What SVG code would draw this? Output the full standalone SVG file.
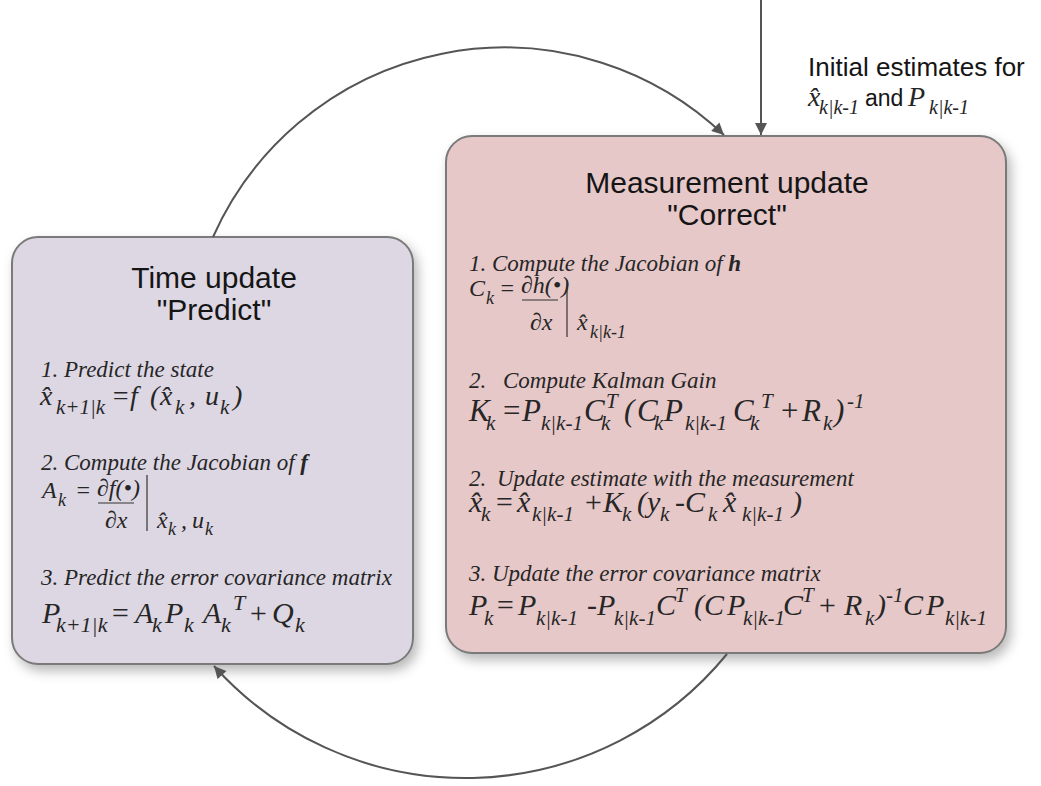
<svg xmlns="http://www.w3.org/2000/svg" width="1041" height="786" viewBox="0 0 1041 786">
  <style>
    .box-t { fill: #ddd7e3; stroke: #7a7a7a; stroke-width: 2; }
    .box-m { fill: #e6c8c9; stroke: #7a7a7a; stroke-width: 2; }
    .ttl { font-family: "Liberation Sans", Arial, sans-serif; font-size: 30px; fill: #151515; text-anchor: middle; }
    .note { font-family: "Liberation Sans", Arial, sans-serif; fill: #151515; }
    .lbl { font-family: "Liberation Serif", "Times New Roman", serif; font-style: italic; font-size: 23px; fill: #262626; }
    .eq { font-family: "Liberation Serif", "Times New Roman", serif; font-style: italic; fill: #262626; }
    .bi { font-weight: bold; }
    .rule { stroke: #333; stroke-width: 1.2; }
    .conn { fill: none; stroke: #555; stroke-width: 2; }
  </style>
  <defs>
    <filter id="shadow" x="-10%" y="-10%" width="125%" height="125%">
      <feDropShadow dx="4" dy="6" stdDeviation="6" flood-color="#000" flood-opacity="0.28"/>
    </filter>
    <marker id="arrow" viewBox="0 0 10 10" refX="10" refY="5" markerUnits="userSpaceOnUse" markerWidth="16" markerHeight="12" orient="auto">
      <path d="M0,0 L10,5 L0,10 z" fill="#555"/>
    </marker>
  </defs>

  <!-- Time update (predict) -->
  <g id="time-update">
    <rect class="box-t" x="12" y="237" width="401" height="427" rx="26" ry="26" filter="url(#shadow)"/>
    <text class="ttl" x="214" y="288">Time update</text>
    <text class="ttl" x="214" y="320">"Predict"</text>

    <text class="lbl" x="41" y="377">1. Predict the state</text>
    <text class="eq" font-size="28">
      <tspan x="40" y="405">x&#770;</tspan>
      <tspan x="56" y="414" font-size="21">k+1|k</tspan>
      <tspan x="111" y="405">=</tspan>
      <tspan x="130" y="405">f</tspan>
      <tspan x="150" y="405">(</tspan>
      <tspan x="160" y="405">x&#770;</tspan>
      <tspan x="175" y="414" font-size="21">k</tspan>
      <tspan x="189" y="405">,</tspan>
      <tspan x="205" y="405">u</tspan>
      <tspan x="220" y="414" font-size="21">k</tspan>
      <tspan x="233" y="405">)</tspan>
    </text>

    <text class="lbl" x="41" y="470">2. Compute the Jacobian of <tspan class="bi">f</tspan></text>
    <text class="eq" font-size="24">
      <tspan x="42" y="498">A</tspan>
      <tspan x="58" y="506" font-size="18">k</tspan>
      <tspan x="75" y="498">=</tspan>
      <tspan x="97" y="496">∂f(•)</tspan>
      <tspan x="105" y="528">∂x</tspan>
      <tspan x="157" y="528">x&#770;</tspan>
      <tspan x="168" y="535" font-size="18">k</tspan>
      <tspan x="181" y="528">,</tspan>
      <tspan x="192" y="528">u</tspan>
      <tspan x="205" y="535" font-size="18">k</tspan>
    </text>
    <line class="rule" x1="98" y1="503" x2="134" y2="503"/>
    <line class="rule" x1="147" y1="475" x2="147" y2="531"/>

    <text class="lbl" x="41" y="585">3. Predict the error covariance matrix</text>
    <text class="eq" font-size="30">
      <tspan x="42" y="623">P</tspan>
      <tspan x="56" y="632" font-size="22">k+1|k</tspan>
      <tspan x="110" y="623">=</tspan>
      <tspan x="135" y="623">A</tspan>
      <tspan x="152" y="632" font-size="22">k</tspan>
      <tspan x="165" y="623">P</tspan>
      <tspan x="184" y="632" font-size="22">k</tspan>
      <tspan x="203" y="623">A</tspan>
      <tspan x="221" y="632" font-size="22">k</tspan>
      <tspan x="233" y="610" font-size="22">T</tspan>
      <tspan x="248" y="623">+</tspan>
      <tspan x="272" y="623">Q</tspan>
      <tspan x="295" y="632" font-size="22">k</tspan>
    </text>
  </g>

  <!-- Measurement update (correct) -->
  <g id="measurement-update">
    <rect class="box-m" x="446" y="136" width="560" height="517" rx="26" ry="26" filter="url(#shadow)"/>
    <text class="ttl" x="727" y="193">Measurement update</text>
    <text class="ttl" x="727" y="225">"Correct"</text>

    <text class="lbl" x="469" y="271">1. Compute the Jacobian of <tspan class="bi">h</tspan></text>
    <text class="eq" font-size="24">
      <tspan x="469" y="296">C</tspan>
      <tspan x="486" y="304" font-size="18">k</tspan>
      <tspan x="499" y="296">=</tspan>
      <tspan x="521" y="293">∂h(•)</tspan>
      <tspan x="530" y="330">∂x</tspan>
      <tspan x="577" y="330">x&#770;</tspan>
      <tspan x="590" y="338" font-size="18">k|k-1</tspan>
    </text>
    <line class="rule" x1="522" y1="300" x2="558" y2="300"/>
    <line class="rule" x1="567" y1="280" x2="567" y2="337"/>

    <text class="lbl" x="469" y="388">2.<tspan x="503">Compute Kalman Gain</tspan></text>
    <text class="eq" font-size="31">
      <tspan x="469" y="421">K</tspan>
      <tspan x="486" y="430" font-size="21">k</tspan>
      <tspan x="501" y="421">=</tspan>
      <tspan x="522" y="421">P</tspan>
      <tspan x="541" y="430" font-size="21">k|k-1</tspan>
      <tspan x="584" y="421">C</tspan>
      <tspan x="601" y="430" font-size="21">k</tspan>
      <tspan x="606" y="408" font-size="21">T</tspan>
      <tspan x="624" y="421">(</tspan>
      <tspan x="637" y="421">C</tspan>
      <tspan x="654" y="430" font-size="21">k</tspan>
      <tspan x="664" y="421">P</tspan>
      <tspan x="685" y="430" font-size="21">k|k-1</tspan>
      <tspan x="733" y="421">C</tspan>
      <tspan x="750" y="430" font-size="21">k</tspan>
      <tspan x="761" y="408" font-size="21">T</tspan>
      <tspan x="779" y="421">+</tspan>
      <tspan x="802" y="421">R</tspan>
      <tspan x="823" y="430" font-size="21">k</tspan>
      <tspan x="834" y="421">)</tspan>
      <tspan x="847" y="408" font-size="21">-1</tspan>
    </text>

    <text class="lbl" x="469" y="486">2.<tspan x="497">Update estimate with the measurement</tspan></text>
    <text class="eq" font-size="30">
      <tspan x="469" y="512">x&#770;</tspan>
      <tspan x="481" y="521" font-size="21">k</tspan>
      <tspan x="494" y="512">=</tspan>
      <tspan x="517" y="512">x&#770;</tspan>
      <tspan x="532" y="521" font-size="21">k|k-1</tspan>
      <tspan x="583" y="512">+</tspan>
      <tspan x="603" y="512">K</tspan>
      <tspan x="622" y="521" font-size="21">k</tspan>
      <tspan x="637" y="512">(</tspan>
      <tspan x="647" y="512">y</tspan>
      <tspan x="660" y="521" font-size="21">k</tspan>
      <tspan x="675" y="512">-</tspan>
      <tspan x="685" y="512">C</tspan>
      <tspan x="708" y="521" font-size="21">k</tspan>
      <tspan x="723" y="512">x&#770;</tspan>
      <tspan x="742" y="521" font-size="21">k|k-1</tspan>
      <tspan x="792" y="512">)</tspan>
    </text>

    <text class="lbl" x="469" y="581">3. Update the error covariance matrix</text>
    <text class="eq" font-size="30">
      <tspan x="469" y="615">P</tspan>
      <tspan x="484" y="625" font-size="21">k</tspan>
      <tspan x="495" y="615">=</tspan>
      <tspan x="518" y="615">P</tspan>
      <tspan x="536" y="625" font-size="21">k|k-1</tspan>
      <tspan x="587" y="615">-</tspan>
      <tspan x="597" y="615">P</tspan>
      <tspan x="614" y="625" font-size="21">k|k-1</tspan>
      <tspan x="656" y="615">C</tspan>
      <tspan x="675" y="602" font-size="21">T</tspan>
      <tspan x="694" y="615">(</tspan>
      <tspan x="704" y="615">C</tspan>
      <tspan x="727" y="615">P</tspan>
      <tspan x="743" y="625" font-size="21">k|k-1</tspan>
      <tspan x="783" y="615">C</tspan>
      <tspan x="802" y="602" font-size="21">T</tspan>
      <tspan x="817" y="615">+</tspan>
      <tspan x="844" y="615">R</tspan>
      <tspan x="865" y="625" font-size="21">k</tspan>
      <tspan x="876" y="615">)</tspan>
      <tspan x="886" y="602" font-size="21">-1</tspan>
      <tspan x="903" y="615">C</tspan>
      <tspan x="926" y="615">P</tspan>
      <tspan x="945" y="625" font-size="21">k|k-1</tspan>
    </text>
  </g>

  <!-- Initial estimate note -->
  <g id="initial-note">
    <text class="note" x="808" y="76" font-size="26">Initial estimates for</text>
    <text class="eq" font-size="28">
      <tspan x="808" y="106">x&#770;</tspan>
      <tspan x="819" y="114" font-size="20">k|k-1</tspan>
      <tspan x="908" y="106">P</tspan>
      <tspan x="929" y="114" font-size="20">k|k-1</tspan>
    </text>
    <text class="note" x="865" y="106" font-size="23">and</text>
  </g>

  <!-- Connectors: circular arcs between the two update steps, plus the initial-estimate input -->
  <g id="connectors">
    <path class="conn" d="M213,237 A319,319 0 0 1 724,135" marker-end="url(#arrow)"/>
    <path class="conn" d="M727,654 A338,338 0 0 1 214,666" marker-end="url(#arrow)"/>
    <path class="conn" d="M761,0 L761,135" marker-end="url(#arrow)"/>
  </g>
</svg>
